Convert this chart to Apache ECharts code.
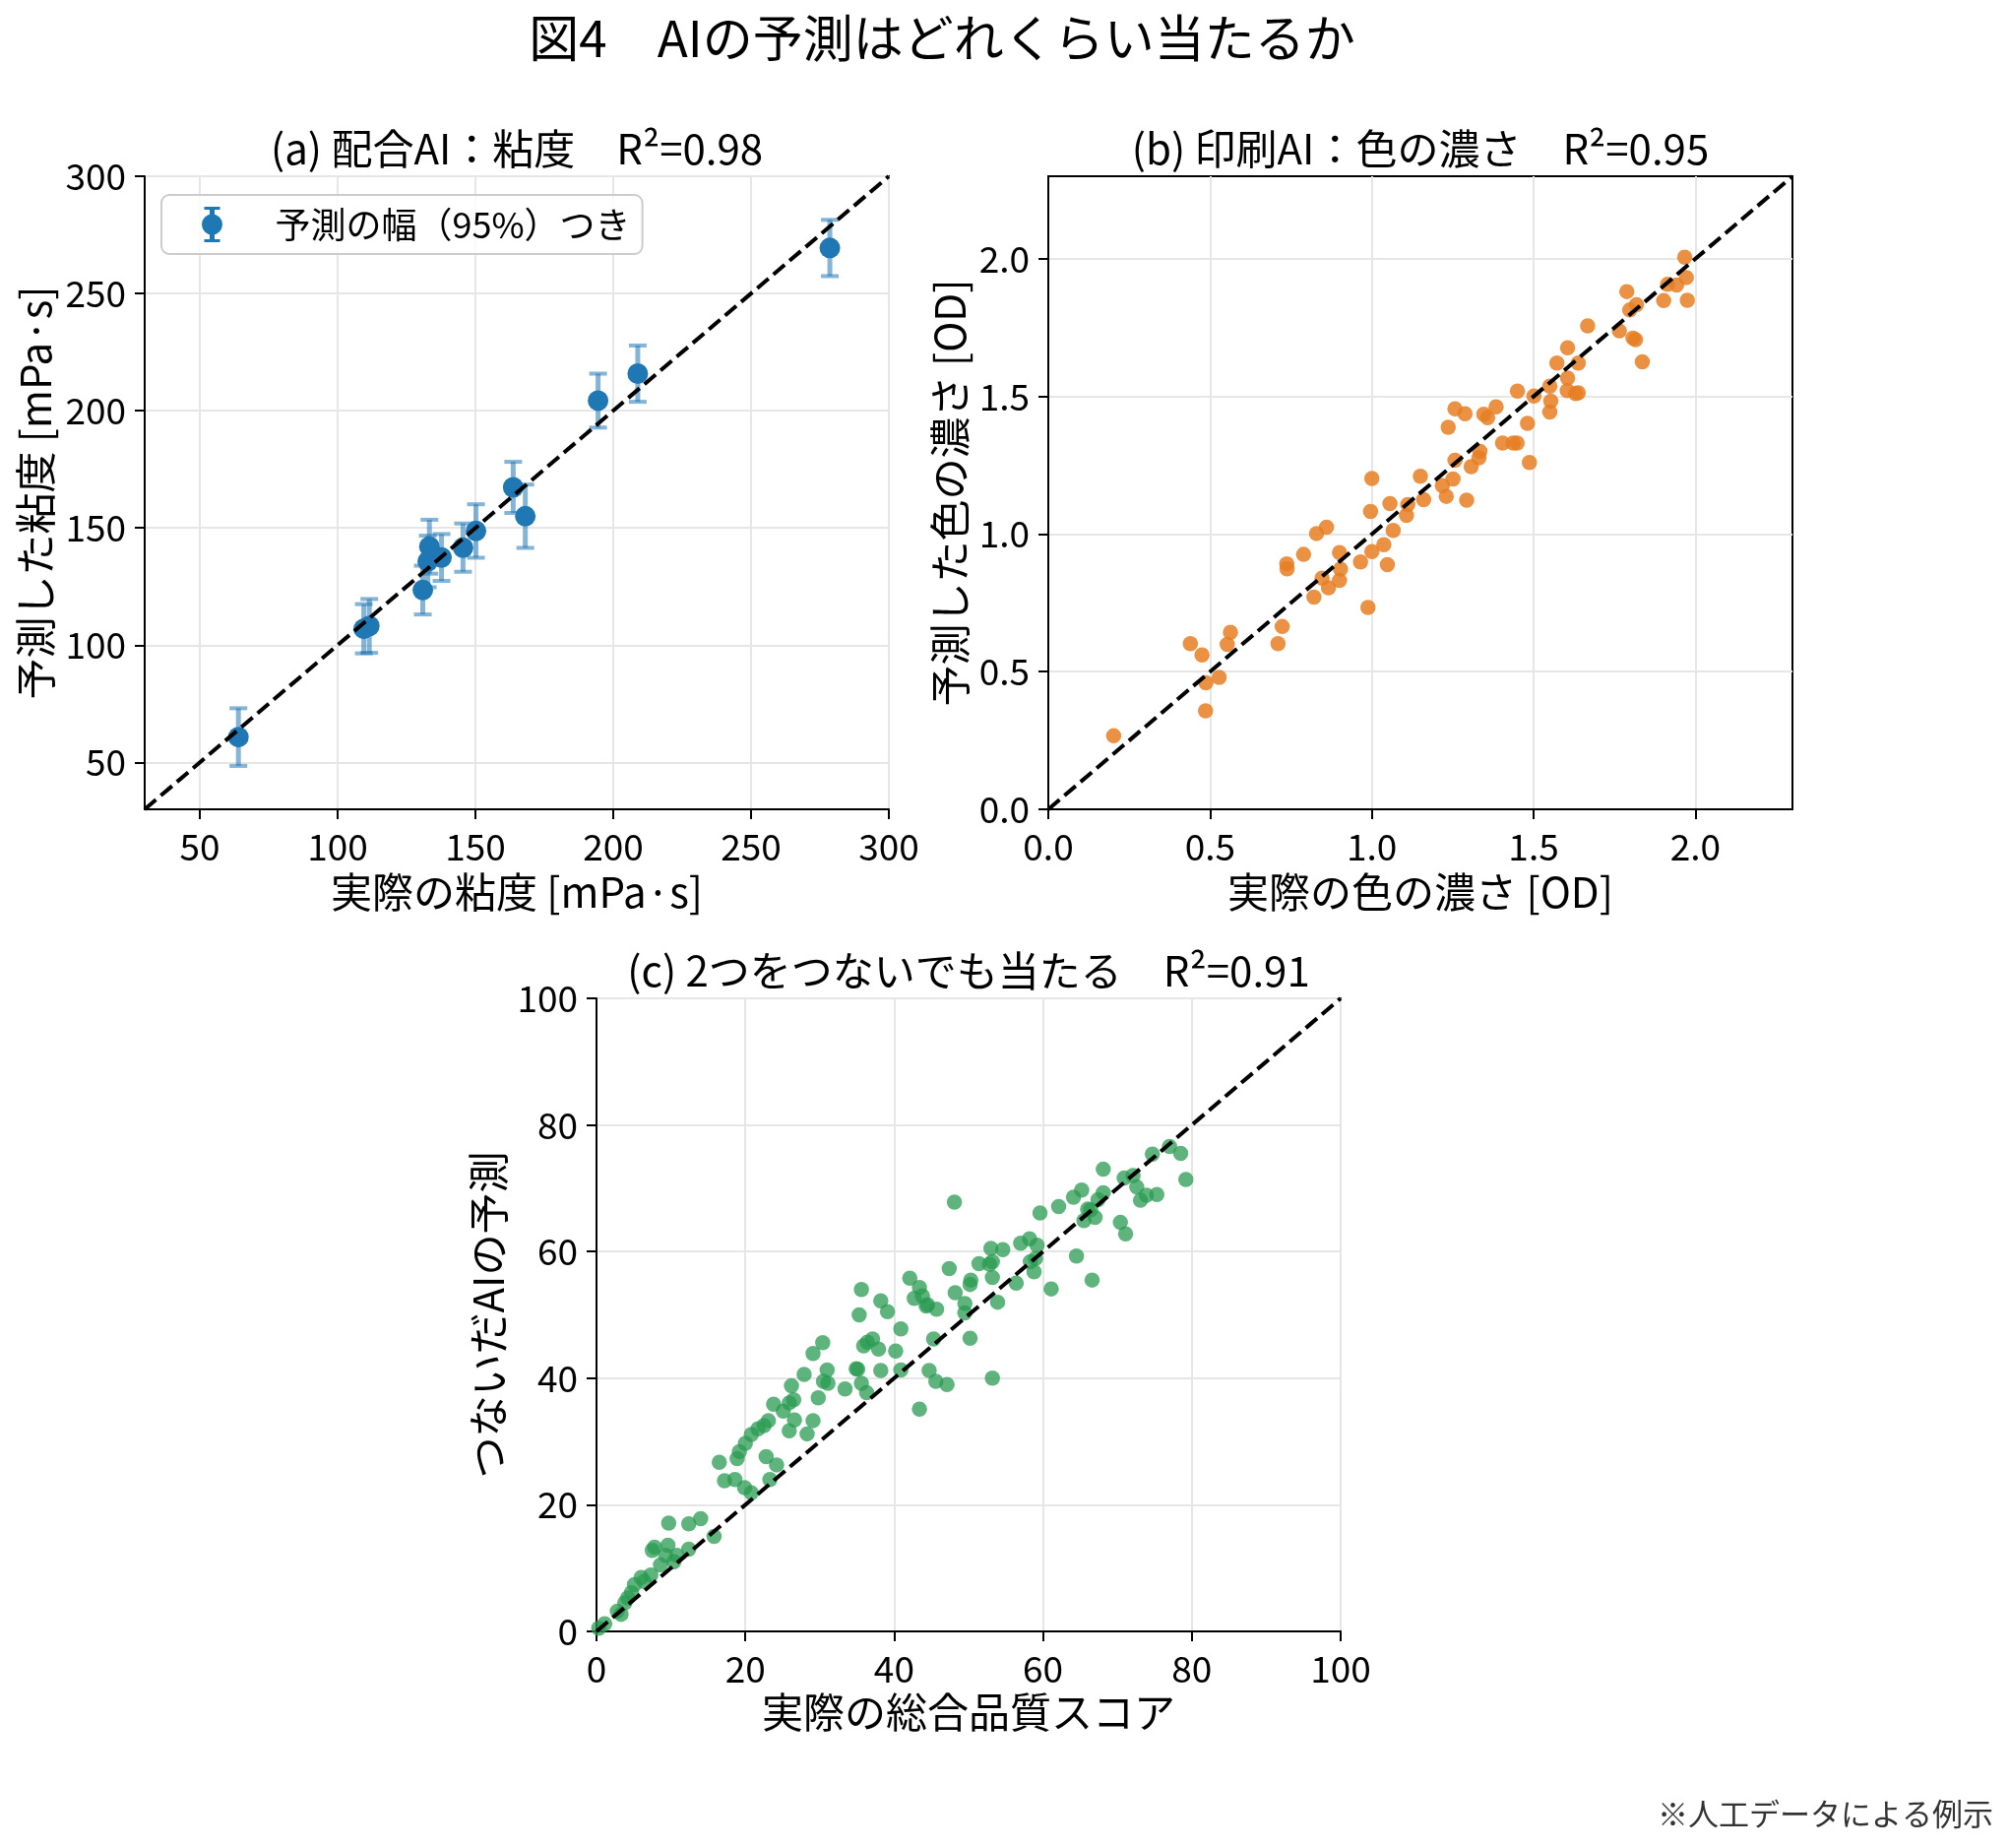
<!DOCTYPE html>
<html>
<head>
<meta charset="utf-8">
<script src="https://cdn.jsdelivr.net/npm/echarts@6/dist/echarts.min.js"></script>
<style>
html, body { margin: 0; padding: 0; background: #fff; }
#main { width: 2042px; height: 1877px; }
</style>
</head>
<body>
<div id="main"></div>
<script>
// (a) 配合AI：粘度
let viscActual = [64.0, 109.5, 111.5, 130.9, 132.7, 133.3, 137.7, 145.5, 150.2, 163.7, 168.1, 194.5, 208.9, 278.6];
let viscPred   = [60.8, 107.0, 108.2, 123.5, 135.7, 142.0, 137.4, 141.6, 148.7, 167.3, 155.0, 204.3, 215.8, 269.4];
let viscErr    = [12.3, 10.5, 11.5, 10.4, 11.0, 11.5, 10.0, 10.3, 11.4, 10.9, 13.5, 11.5, 12.0, 12.0];
let viscTicks  = [50, 100, 150, 200, 250, 300];
let viscRange  = [30, 300];

// (b) 印刷AI：色の濃さ
let odActual = [0.202, 0.439, 0.475, 0.487, 0.486, 0.528, 0.553, 0.563, 0.710, 0.723, 0.737, 0.738, 0.789, 0.829, 0.860,
  0.821, 0.846, 0.866, 0.900, 0.903, 0.900, 0.965, 0.988, 1.000, 0.996, 1.000, 1.037, 1.048, 1.066, 1.056,
  1.107, 1.111, 1.150, 1.160, 1.218, 1.230, 1.251, 1.257, 1.236, 1.257, 1.288, 1.293, 1.307, 1.331, 1.334,
  1.346, 1.358, 1.384, 1.404, 1.437, 1.449, 1.487, 1.481, 1.450, 1.501, 1.550, 1.553, 1.550, 1.604, 1.605,
  1.630, 1.638, 1.572, 1.638, 1.605, 1.667, 1.765, 1.807, 1.815, 1.836, 1.788, 1.797, 1.818, 1.902, 1.914,
  1.942, 1.972, 1.967, 1.975];
let odPred = [0.267, 0.602, 0.561, 0.460, 0.358, 0.479, 0.599, 0.643, 0.602, 0.664, 0.892, 0.874, 0.926, 1.002, 1.025,
  0.771, 0.840, 0.805, 0.832, 0.873, 0.933, 0.899, 0.733, 1.202, 1.082, 0.936, 0.961, 0.889, 1.013, 1.111,
  1.068, 1.107, 1.210, 1.125, 1.176, 1.137, 1.200, 1.268, 1.388, 1.455, 1.437, 1.123, 1.245, 1.277, 1.300,
  1.435, 1.423, 1.462, 1.331, 1.331, 1.331, 1.260, 1.402, 1.519, 1.501, 1.537, 1.483, 1.443, 1.521, 1.567,
  1.510, 1.513, 1.621, 1.621, 1.677, 1.756, 1.738, 1.712, 1.706, 1.626, 1.881, 1.814, 1.833, 1.848, 1.907,
  1.905, 1.932, 2.006, 1.849];
let odTicks = [0, 0.5, 1.0, 1.5, 2.0];
let odRange = [0, 2.3];

// (c) 2つをつないでも当たる
let scoreActual = [1.1, 0.3, 2.8, 3.3, 3.8, 4.2, 4.7, 5.1, 6.0, 6.4, 7.3, 7.8, 7.5, 8.6, 9.3, 9.6, 10.4, 10.8, 12.4,
  9.7, 12.4, 14.0, 15.8, 16.5, 17.2, 18.6, 18.9, 19.2, 20.0, 19.9, 20.8, 20.8, 21.7, 22.5, 23.1, 22.8, 24.2,
  23.3, 23.8, 25.1, 25.9, 26.6, 28.3, 29.1, 25.9, 26.5, 29.8,
  26.2, 27.9, 29.1, 30.4, 31.0, 30.5, 31.1, 33.4, 35.1, 34.9, 35.6, 36.3, 38.2, 35.9, 36.4, 37.1, 37.9, 40.2,
  40.9, 40.9, 35.3, 35.6, 38.2, 39.1, 42.1, 43.4, 42.7, 43.8, 44.3, 44.5, 45.7, 45.3, 44.7, 45.6, 47.1, 43.4,
  47.4, 48.2, 49.5, 49.5, 50.2, 50.3, 50.2, 51.4, 53.0, 53.2, 53.2, 53.2, 48.1,
  53.9, 52.8, 54.6, 56.4, 57.0, 58.2, 59.2, 58.3, 58.8, 59.0, 61.1, 59.6, 62.1, 64.5, 66.6, 64.1, 65.2, 65.5,
  66.0, 66.4, 67.0, 67.4, 68.1, 68.1, 70.4, 71.1, 70.9, 72.1, 72.6, 73.1, 73.9, 75.3, 74.7, 77.0, 78.5, 79.2];
let scorePred = [1.2, 0.5, 3.2, 2.7, 4.5, 5.3, 6.1, 7.4, 8.5, 7.9, 8.9, 13.3, 12.8, 10.5, 12.0, 13.6, 11.0, 12.0, 13.0,
  17.1, 17.0, 17.8, 15.0, 26.7, 23.8, 24.0, 27.3, 28.4, 29.7, 22.7, 21.9, 31.1, 32.0, 32.5, 33.3, 27.6, 26.3,
  24.0, 35.9, 34.8, 31.7, 33.4, 31.2, 33.3, 36.1, 36.6, 36.9,
  38.8, 40.6, 43.9, 45.6, 41.3, 39.5, 39.2, 38.3, 41.4, 41.5, 39.2, 37.7, 41.2, 45.1, 45.7, 46.2, 44.6, 44.3,
  41.3, 47.8, 50.0, 54.0, 52.2, 50.5, 55.8, 54.3, 52.6, 53.0, 51.4, 51.6, 50.9, 46.2, 41.2, 39.5, 39.0, 35.1,
  57.3, 53.5, 51.8, 50.3, 46.3, 55.5, 54.8, 58.1, 60.5, 58.4, 55.9, 40.0, 67.8,
  52.0, 58.0, 60.3, 55.0, 61.3, 62.0, 61.0, 58.4, 56.8, 58.9, 54.1, 66.1, 67.1, 59.3, 55.5, 68.6, 69.7, 64.9,
  66.7, 66.6, 65.4, 68.2, 69.3, 73.0, 64.6, 62.8, 71.6, 72.0, 70.2, 68.1, 68.9, 69.0, 75.4, 76.6, 75.5, 71.4];
let scoreTicks = [0, 20, 40, 60, 80, 100];
let scoreRange = [0, 100];

const FONT = "'Noto Sans CJK JP', 'Noto Sans', sans-serif";
let myChart = echarts.init(document.getElementById('main'));

function zip(xs, ys) {
  return xs.map((x, i) => [x, ys[i]]);
}

function makeAxis(idx, range, ticks, fmt, name, gap) {
  return {
    type: 'value',
    gridIndex: idx,
    min: range[0],
    max: range[1],
    name: name,
    nameLocation: 'middle',
    nameGap: gap,
    nameTextStyle: { fontSize: 42, color: '#000', fontFamily: FONT },
    axisLine: { show: true, lineStyle: { color: '#000', width: 2 } },
    axisTick: { show: true, length: 10, customValues: ticks, lineStyle: { color: '#000', width: 2 } },
    axisLabel: { customValues: ticks, formatter: fmt, fontSize: 37, color: '#000', margin: 19, fontFamily: FONT },
    splitLine: { show: true, lineStyle: { color: '#e6e6e6', width: 2 } }
  };
}

function diag(idx, range) {
  return {
    type: 'line',
    xAxisIndex: idx,
    yAxisIndex: idx,
    data: [[range[0], range[0]], [range[1], range[1]]],
    symbol: 'none',
    silent: true,
    z: 5,
    lineStyle: { color: '#000', width: 4, type: [15, 6.5] }
  };
}

let intFmt = v => String(v);
let odFmt = v => v.toFixed(1);

let errColor = 'rgba(31,119,180,0.55)';
let legendIcon = 'path://M0.5 18 A10.5 10.5 0 1 1 21.5 18 A10.5 10.5 0 1 1 0.5 18 Z M8.5 0 H13.5 V36 H8.5 Z M3 0 H19 V3 H3 Z M3 33 H19 V36 H3 Z';

let option = {
  animation: false,
  backgroundColor: '#fff',
  textStyle: { fontFamily: FONT },
  graphic: [
    { type: 'text', x: 957, y: 39, style: { text: '図4　AIの予測はどれくらい当たるか', font: '51px ' + FONT, fill: '#000', align: 'center', verticalAlign: 'middle' } },
    { type: 'text', x: 525, y: 151, style: { text: '(a) 配合AI：粘度　R²=0.98', font: '42px ' + FONT, fill: '#000', align: 'center', verticalAlign: 'middle' } },
    { type: 'text', x: 1443, y: 151, style: { text: '(b) 印刷AI：色の濃さ　R²=0.95', font: '42px ' + FONT, fill: '#000', align: 'center', verticalAlign: 'middle' } },
    { type: 'text', x: 984, y: 986, style: { text: '(c) 2つをつないでも当たる　R²=0.91', font: '42px ' + FONT, fill: '#000', align: 'center', verticalAlign: 'middle' } },
    { type: 'text', x: 2025, y: 1842, style: { text: '※人工データによる例示', font: '31px ' + FONT, fill: '#333', align: 'right', verticalAlign: 'middle' } }
  ],
  legend: {
    data: ['予測の幅（95%）つき'],
    left: 164,
    top: 198,
    icon: legendIcon,
    itemWidth: 22,
    itemHeight: 36,
    padding: [12, 12, 12, 41],
    borderColor: '#cccccc',
    borderWidth: 2,
    borderRadius: 8,
    backgroundColor: 'rgba(255,255,255,0.8)',
    selectedMode: false,
    textStyle: { fontSize: 36, color: '#000', fontFamily: FONT, padding: [0, 0, 0, 48] }
  },
  grid: [
    { left: 147, top: 179, width: 756, height: 643, show: true, borderColor: '#000', borderWidth: 2, backgroundColor: 'transparent' },
    { left: 1065, top: 179, width: 756, height: 643, show: true, borderColor: '#000', borderWidth: 2, backgroundColor: 'transparent' },
    { left: 606, top: 1014, width: 756, height: 643, show: true, borderColor: '#000', borderWidth: 2, backgroundColor: 'transparent' }
  ],
  xAxis: [
    makeAxis(0, viscRange, viscTicks, intFmt, '実際の粘度 [mPa·s]', 63),
    makeAxis(1, odRange, odTicks, odFmt, '実際の色の濃さ [OD]', 63),
    makeAxis(2, scoreRange, scoreTicks, intFmt, '実際の総合品質スコア', 61)
  ],
  yAxis: [
    makeAxis(0, viscRange, viscTicks, intFmt, '予測した粘度 [mPa·s]', 90),
    makeAxis(1, odRange, odTicks, odFmt, '予測した色の濃さ [OD]', 79),
    makeAxis(2, scoreRange, scoreTicks, intFmt, 'つないだAIの予測', 89)
  ],
  series: [
    {
      type: 'custom',
      xAxisIndex: 0,
      yAxisIndex: 0,
      z: 2,
      silent: true,
      data: viscActual.map((x, i) => [x, viscPred[i] - viscErr[i], viscPred[i] + viscErr[i]]),
      encode: { x: 0, y: [1, 2] },
      renderItem: function (params, api) {
        let top = api.coord([api.value(0), api.value(2)]);
        let bot = api.coord([api.value(0), api.value(1)]);
        let hw = 9;
        let st = { stroke: errColor, lineWidth: 5 };
        let cap = { stroke: errColor, lineWidth: 4 };
        return {
          type: 'group',
          children: [
            { type: 'line', shape: { x1: top[0], y1: top[1], x2: bot[0], y2: bot[1] }, style: st },
            { type: 'line', shape: { x1: top[0] - hw, y1: top[1], x2: top[0] + hw, y2: top[1] }, style: cap },
            { type: 'line', shape: { x1: bot[0] - hw, y1: bot[1], x2: bot[0] + hw, y2: bot[1] }, style: cap }
          ]
        };
      }
    },
    {
      name: '予測の幅（95%）つき',
      type: 'scatter',
      xAxisIndex: 0,
      yAxisIndex: 0,
      z: 3,
      symbolSize: 21,
      itemStyle: { color: '#1f77b4', opacity: 1 },
      data: zip(viscActual, viscPred)
    },
    diag(0, viscRange),
    {
      type: 'scatter',
      xAxisIndex: 1,
      yAxisIndex: 1,
      z: 3,
      symbolSize: 15.5,
      itemStyle: { color: 'rgba(230,126,34,0.85)', opacity: 1 },
      data: zip(odActual, odPred)
    },
    diag(1, odRange),
    {
      type: 'scatter',
      xAxisIndex: 2,
      yAxisIndex: 2,
      z: 3,
      symbolSize: 15.5,
      itemStyle: { color: 'rgba(40,155,80,0.75)', opacity: 1 },
      data: zip(scoreActual, scorePred)
    },
    diag(2, scoreRange)
  ]
};

myChart.setOption(option);
</script>
</body>
</html>
